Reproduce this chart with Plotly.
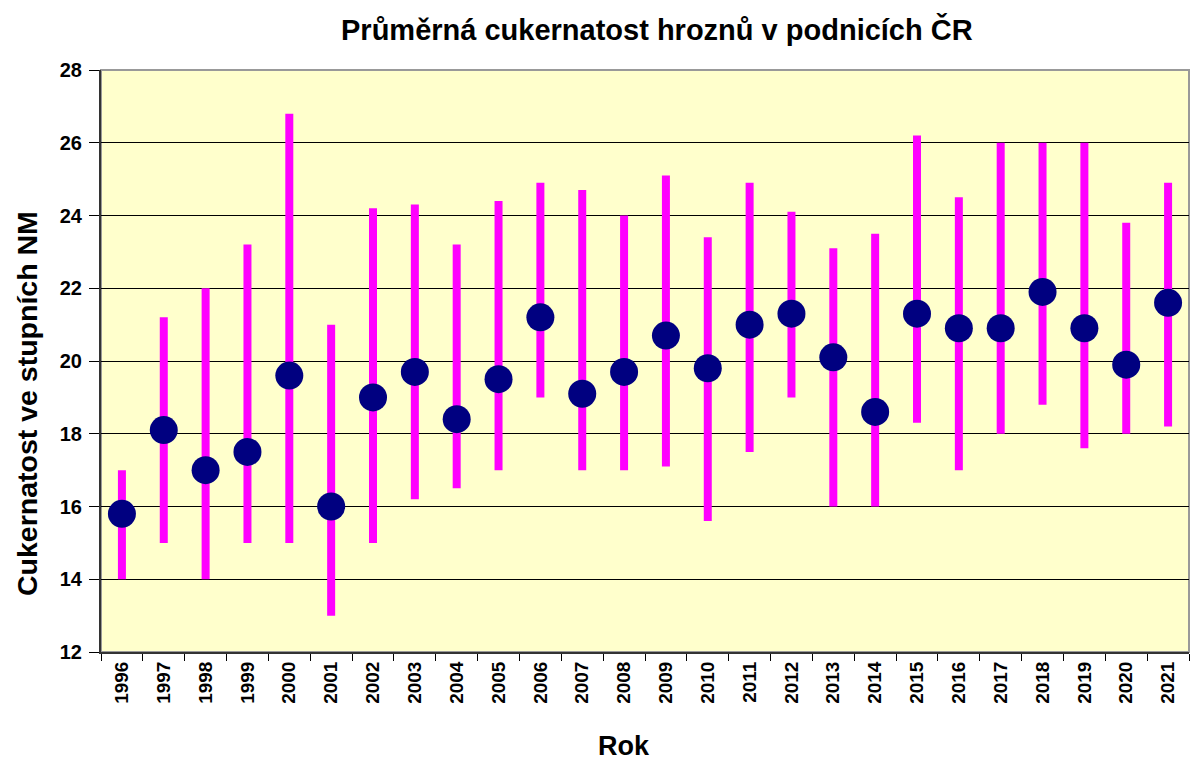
import plotly.graph_objects as go

years = [str(y) for y in range(1996, 2022)]
mean_vals = [15.8, 18.1, 17.0, 17.5, 19.6, 16.0, 19.0, 19.7, 18.4, 19.5, 21.2, 19.1, 19.7,
             20.7, 19.8, 21.0, 21.3, 20.1, 18.6, 21.3, 20.9, 20.9, 21.9, 20.9, 19.9, 21.6]
min_vals = [14.0, 15.0, 14.0, 15.0, 15.0, 13.0, 15.0, 16.2, 16.5, 17.0, 19.0, 17.0, 17.0,
            17.1, 15.6, 17.5, 19.0, 16.0, 16.0, 18.3, 17.0, 18.0, 18.8, 17.6, 18.0, 18.2]
max_vals = [17.0, 21.2, 22.0, 23.2, 26.8, 21.0, 24.2, 24.3, 23.2, 24.4, 24.9, 24.7, 24.0,
            25.1, 23.4, 24.9, 24.1, 23.1, 23.5, 26.2, 24.5, 26.0, 26.0, 26.0, 23.8, 24.9]

font = "Liberation Sans, Arial, sans-serif"

fig = go.Figure()
fig.add_trace(go.Scatter(
    x=years, y=mean_vals, mode="markers",
    marker=dict(color="#000080", size=28, line=dict(width=0)),
    error_y=dict(type="data", symmetric=False,
                 array=[mx - m for mx, m in zip(max_vals, mean_vals)],
                 arrayminus=[m - mn for m, mn in zip(mean_vals, min_vals)],
                 color="#FF00FF", thickness=8, width=0),
    showlegend=False, hoverinfo="x+y",
))

fig.update_layout(
    width=1191, height=763,
    margin=dict(l=101, r=2, t=70, b=111, autoexpand=False),
    paper_bgcolor="white", plot_bgcolor="#FFFFCC",
    font=dict(family=font, color="black"),
)
fig.add_annotation(text="<b>Průměrná cukernatost hroznů v podnicích ČR</b>",
                   xref="paper", yref="paper", x=(657 - 101) / 1088, y=1 + (70 - 29) / 582,
                   xanchor="center", yanchor="middle", showarrow=False,
                   font=dict(family=font, size=29, color="black"))
fig.add_annotation(text="<b>Rok</b>",
                   xref="paper", yref="paper", x=(624 - 101) / 1088, y=-(746 - 652) / 582,
                   xanchor="center", yanchor="middle", showarrow=False,
                   font=dict(family=font, size=27, color="black"))
fig.add_annotation(text="<b>Cukernatost ve stupních NM</b>",
                   xref="paper", yref="paper", x=-(101 - 27) / 1088, y=(652 - 404) / 582,
                   xanchor="center", yanchor="middle", showarrow=False, textangle=-90,
                   font=dict(family=font, size=28.5, color="black"))

fig.update_xaxes(
    type="category", range=[-0.5, 25.5], tickson="boundaries", ticks="outside", ticklen=7,
    tickcolor="black", tickwidth=1, tickangle=-90,
    tickfont=dict(family=font, size=19, color="black", weight="bold"),
    showline=True, linecolor="#333333", linewidth=2, mirror=False,
    showgrid=False,
)
fig.update_yaxes(
    range=[12, 28], dtick=2, ticks="outside", ticklen=10, tickcolor="black",
    tickfont=dict(family=font, size=20, color="black", weight="bold"),
    ticklabelstandoff=3,
    showline=True, linecolor="#333333", linewidth=2,
    showgrid=True, gridcolor="black", gridwidth=1, zeroline=False,
)
# gray frame top and right
fig.add_shape(type="rect", xref="paper", yref="paper", x0=0, y0=0, x1=1, y1=1,
              line=dict(color="#999999", width=2), layer="below")

fig.write_html("out.html", config={"displayModeBar": False},
               post_script="document.body.style.margin='0';document.body.style.overflow='hidden';")
